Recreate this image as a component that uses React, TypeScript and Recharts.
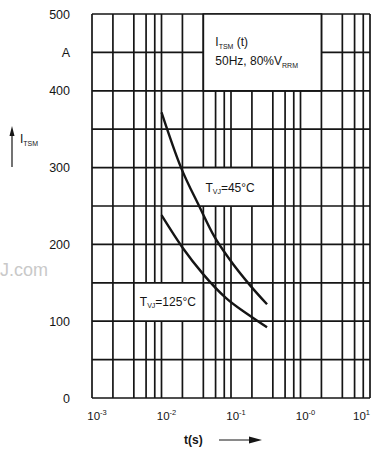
import React from 'react';
import { ComposedChart, Line, XAxis, YAxis, ReferenceLine, ReferenceArea } from 'recharts';

// grid of the log paper: 1, 2, 4, 6, 8 per decade
const gridTimes = [
  0.001, 0.002, 0.004, 0.006, 0.008,
  0.01, 0.02, 0.04, 0.06, 0.08,
  0.1, 0.2, 0.4, 0.6, 0.8,
  1, 2, 4, 6, 8,
  10,
];
const gridCurrents = [0, 50, 100, 150, 200, 250, 300, 350, 400, 450, 500];

const timeTicks = [0.001, 0.01, 0.1, 1, 10];
const timeTickExponents = ['-3', '-2', '-1', '-0', '1'];
const currentTicks = [0, 100, 200, 300, 400, 450, 500];
const currentTickLabels = ['0', '100', '200', '300', '400', 'A', '500'];

// I_TSM(t) at TVJ = 45°C
const times45 = [0.01, 0.0189, 0.0352, 0.0577, 0.0946, 0.187, 0.33];
const itsm45 = [372, 301, 249, 210, 181, 147, 122];

// I_TSM(t) at TVJ = 125°C
const times125 = [0.01, 0.02, 0.04, 0.085, 0.187, 0.33];
const itsm125 = [238, 196, 161, 130, 107, 92];

const curve45 = times45.map((t, i) => ({ t, itsm: itsm45[i] }));
const curve125 = times125.map((t, i) => ({ t, itsm: itsm125[i] }));

const FONT = '"Liberation Sans", Arial, sans-serif';
const INK = '#151515';

const XTick = ({ x, y, payload }: any) => {
  const i = timeTicks.indexOf(payload.value);
  const last = i === timeTicks.length - 1;
  return (
    <text
      x={last ? x : x + 5}
      y={y + 22}
      textAnchor={last ? 'end' : 'middle'}
      fontFamily={FONT}
      fontSize={11.5}
      fill={INK}
    >
      10
      <tspan fontSize={7.5} dy={-5}>{timeTickExponents[i]}</tspan>
    </text>
  );
};

const YTick = ({ x, y, payload }: any) => {
  const i = currentTicks.indexOf(payload.value);
  return (
    <text x={x} y={y + 4.5} textAnchor="end" fontFamily={FONT} fontSize={12.5} fill={INK}>
      {currentTickLabels[i]}
    </text>
  );
};

const Sub = ({ children }: any) => (
  <tspan fontSize={7} dy={2.5}>{children}</tspan>
);

const TopBoxText = ({ viewBox }: any) => (
  <g fontFamily={FONT} fontSize={12} fill={INK}>
    <text x={viewBox.x + 12} y={viewBox.y + 32}>
      I<Sub>TSM</Sub>
      <tspan dy={-2.5}> (t)</tspan>
    </text>
    <text x={viewBox.x + 12} y={viewBox.y + 51}>
      50Hz, 80%V<Sub>RRM</Sub>
    </text>
  </g>
);

const TempText = (label: string, dx: number, dyy: number) => ({ viewBox }: any) => (
  <text x={viewBox.x + dx} y={viewBox.y + dyy} fontFamily={FONT} fontSize={12} fill={INK}>
    T<Sub>VJ</Sub>
    <tspan dy={-2.5}>={label}</tspan>
  </text>
);

export default function App() {
  return (
    <div style={{ position: 'absolute', left: 0, top: 0, width: 374, height: 451, background: '#fff' }}>
      <ComposedChart
        width={374}
        height={451}
        margin={{ top: 14, right: 4, left: 0, bottom: 0 }}
      >
        <XAxis
          dataKey="t"
          type="number"
          scale="log"
          domain={[0.001, 10]}
          ticks={timeTicks}
          allowDataOverflow
          axisLine={false}
          tickLine={false}
          tickSize={0}
          tickMargin={0}
          height={53}
          tick={<XTick />}
          interval={0}
        />
        <YAxis
          type="number"
          domain={[0, 500]}
          ticks={currentTicks}
          axisLine={false}
          tickLine={false}
          tickSize={0}
          tickMargin={22}
          width={92}
          tick={<YTick />}
          interval={0}
        />
        {gridTimes.map((t) => (
          <ReferenceLine key={'x' + t} x={t} stroke={INK} strokeWidth={1.7} zIndex={50} />
        ))}
        {gridCurrents.map((v) => (
          <ReferenceLine key={'y' + v} y={v} stroke={INK} strokeWidth={1.7} zIndex={50} />
        ))}
        <ReferenceArea
          x1={0.04}
          x2={2}
          y1={400}
          y2={500}
          fill="#fff"
          fillOpacity={1}
          stroke={INK}
          strokeWidth={1.7}
          zIndex={60}
          label={{ content: TopBoxText }}
        />
        <ReferenceArea
          x1={0.02}
          x2={0.4}
          y1={250}
          y2={300}
          fill="#fff"
          fillOpacity={1}
          stroke={INK}
          strokeWidth={1.7}
          zIndex={60}
          label={{ content: TempText('45°C', 23, 24) }}
        />
        <ReferenceArea
          x1={0.004}
          x2={0.04}
          y1={100}
          y2={150}
          fill="#fff"
          fillOpacity={1}
          stroke={INK}
          strokeWidth={1.7}
          zIndex={60}
          label={{ content: TempText('125°C', 6, 23) }}
        />
        <Line
          data={curve45}
          dataKey="itsm"
          type="monotone"
          stroke={INK}
          strokeWidth={2.4}
          dot={false}
          isAnimationActive={false}
        />
        <Line
          data={curve125}
          dataKey="itsm"
          type="monotone"
          stroke={INK}
          strokeWidth={2.4}
          dot={false}
          isAnimationActive={false}
        />
      </ComposedChart>
      <svg
        width={374}
        height={451}
        style={{ position: 'absolute', left: 0, top: 0, pointerEvents: 'none' }}
      >
        <g fontFamily={FONT} fill={INK}>
          <line x1={12} y1={167} x2={12} y2={134} stroke={INK} strokeWidth={1.2} />
          <path d="M12 126 L9.5 136 L14.5 136 Z" />
          <text x={20} y={143} fontSize={12}>
            I<tspan fontSize={7} dy={2.5}>TSM</tspan>
          </text>
          <text x={184} y={444} fontSize={12} fontWeight="bold">t(s)</text>
          <line x1={219} y1={440} x2={250} y2={440} stroke={INK} strokeWidth={1} />
          <path d="M262 440 L249 436.5 L249 443.5 Z" />
          <text x={0} y={276} fontSize={18} fill="#c9c9c9">J.com</text>
        </g>
      </svg>
    </div>
  );
}
